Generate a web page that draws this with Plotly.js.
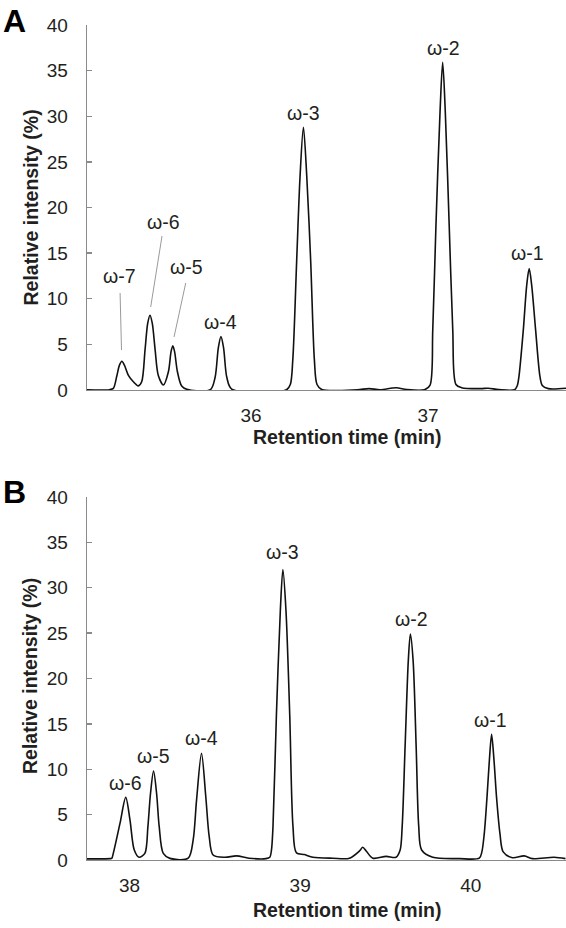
<!DOCTYPE html>
<html>
<head>
<meta charset="utf-8">
<script src="https://cdn.plot.ly/plotly-3.0.1.min.js"></script>
<style>html,body{margin:0;padding:0;background:#fff;}#chart{width:566px;height:928px;}</style>
</head>
<body>
<div id="chart"></div>
<script>
// ---------- Panel A data (retention time in min, relative intensity in %) ----------
const timeA = [35.073, 35.20, 35.222, 35.241, 35.256, 35.270, 35.285, 35.307, 35.335, 35.363,
  35.382, 35.401, 35.416, 35.429, 35.442, 35.458, 35.476, 35.505, 35.533, 35.548,
  35.558, 35.568, 35.584, 35.608, 35.637, 35.77, 35.797, 35.815, 35.83, 35.845,
  35.863, 35.891, 36.20, 36.222, 36.236, 36.258, 36.277, 36.296, 36.315, 36.337,
  36.358, 36.373, 36.40, 36.60, 36.667, 36.73, 36.82, 36.88, 36.98, 37.011,
  37.027, 37.045, 37.068, 37.083, 37.098, 37.120, 37.140, 37.158, 37.19, 37.30,
  37.34, 37.40, 37.49, 37.505, 37.514, 37.539, 37.558, 37.572, 37.586, 37.608,
  37.633, 37.646, 37.68, 37.78];
const intensityA = [0.02, 0.03, 0.18, 1.5, 2.7, 3.15, 2.7, 1.6, 0.9, 0.45,
  0.9, 4.4, 7.3, 8.2, 7.3, 4.4, 1.6, 0.55, 2.0, 4.2,
  4.85, 4.2, 2.0, 0.44, 0.08, 0.03, 1.4, 4.6, 5.85, 4.6,
  1.4, 0.1, 0.02, 0.6, 3.3, 14.2, 23.4, 28.8, 23.4, 14.2,
  3.3, 0.6, 0.05, 0.03, 0.15, 0.03, 0.25, 0.05, 0.03, 0.5,
  6.6, 18.0, 30.4, 35.9, 30.4, 18.0, 6.6, 0.6, 0.25, 0.15,
  0.2, 0.05, 0.03, 0.5, 1.46, 6.65, 11.5, 13.3, 11.5, 6.65,
  1.46, 0.5, 0.15, 0.2];

// ---------- Panel B data ----------
const timeB = [37.751, 37.886, 37.896, 37.905, 37.944, 37.978, 38.003, 38.028, 38.056, 38.090,
  38.108, 38.123, 38.141, 38.159, 38.174, 38.198, 38.237, 38.344, 38.373, 38.393,
  38.422, 38.447, 38.467, 38.490, 38.558, 38.627, 38.70, 38.80, 38.822, 38.832,
  38.841, 38.861, 38.884, 38.899, 38.917, 38.939, 38.958, 38.978, 39.026, 39.075,
  39.192, 39.289, 39.348, 39.367, 39.387, 39.426, 39.504, 39.562, 39.586, 39.598,
  39.615, 39.634, 39.646, 39.662, 39.680, 39.695, 39.712, 39.777, 39.933, 40.05,
  40.065, 40.079, 40.095, 40.109, 40.122, 40.136, 40.151, 40.171, 40.190, 40.244,
  40.313, 40.361, 40.488, 40.555];
const intensityB = [0.12, 0.15, 0.18, 0.73, 4.0, 6.9, 4.4, 1.1, 0.3, 0.73,
  3.7, 7.3, 9.8, 7.3, 3.7, 0.73, 0.18, 0.2, 2.2, 6.6,
  11.75, 7.0, 2.6, 0.55, 0.3, 0.45, 0.2, 0.15, 0.3, 1.1,
  3.7, 16.0, 27.5, 32.0, 27.5, 16.0, 3.7, 0.8, 0.6, 0.3,
  0.2, 0.2, 1.0, 1.4, 1.0, 0.2, 0.4, 0.3, 1.1, 3.7,
  12.45, 22.0, 24.9, 22.0, 12.45, 3.7, 1.1, 0.3, 0.15, 0.2,
  0.9, 2.9, 6.9, 11.0, 13.85, 11.0, 6.9, 2.9, 0.9, 0.25,
  0.45, 0.15, 0.3, 0.15];

// ---------- Peak labels ----------
const peakNamesA = ['ω-7', 'ω-6', 'ω-5', 'ω-4', 'ω-3', 'ω-2', 'ω-1'];
const labelTimeA = [35.254, 35.508, 35.638, 35.83, 36.294, 37.089, 37.565];
const labelIntA = [12.5, 18.4, 13.5, 7.45, 30.4, 37.5, 15.0];
// leader lines [x0, y0, x1, y1] in data units of panel A
const leadersA = [[35.260, 10.63, 35.268, 4.38], [35.497, 16.88, 35.433, 9.10], [35.631, 11.73, 35.565, 5.81]];

const peakNamesB = ['ω-6', 'ω-5', 'ω-4', 'ω-3', 'ω-2', 'ω-1'];
const labelTimeB = [37.977, 38.142, 38.422, 38.898, 39.650, 40.118];
const labelIntB = [8.45, 11.46, 13.48, 33.94, 26.56, 15.43];

const yTicks = [0, 5, 10, 15, 20, 25, 30, 35, 40];
const xTicksA = [36, 37];
const xTicksB = [38, 39, 40];

// ---------- layout helpers ----------
const W = 566, H = 928, ML = 87, MR = 0, MT = 25, MB = 68;
const px2x = p => (p - ML) / (W - ML - MR);
const py2y = p => (H - MB - p) / (H - MT - MB);

const FONT = 'Liberation Sans, Arial, sans-serif';
const AX = '#8a8a8a';
const TXT = '#231f20';

const traces = [
  {x: timeA, y: intensityA, xaxis: 'x', yaxis: 'y', type: 'scatter', mode: 'lines',
   line: {color: '#111', width: 1.6, shape: 'spline', smoothing: 0.85}, hoverinfo: 'x+y'},
  {x: timeB, y: intensityB, xaxis: 'x2', yaxis: 'y2', type: 'scatter', mode: 'lines',
   line: {color: '#111', width: 1.6, shape: 'spline', smoothing: 0.85}, hoverinfo: 'x+y'}
];

const xBase = {showline: true, linecolor: AX, linewidth: 1.3, showgrid: false, zeroline: false,
  ticks: '', tickmode: 'array', tickfont: {family: FONT, size: 19, color: TXT}, ticklabelstandoff: 8};
const yBase = {showline: true, linecolor: AX, linewidth: 1.3, showgrid: false, zeroline: false,
  range: [0, 40], ticks: 'inside', ticklen: 5, tickcolor: AX, tickwidth: 1.3,
  tickmode: 'array', tickvals: yTicks, tickfont: {family: FONT, size: 19, color: TXT}, ticklabelstandoff: 14};

const topA = 1, botA = py2y(390), topB = py2y(497), botB = 0;

const annotations = [];
peakNamesA.forEach((n, i) => annotations.push({xref: 'x', yref: 'y', x: labelTimeA[i], y: labelIntA[i],
  text: n, showarrow: false, xanchor: 'center', yanchor: 'middle', font: {family: FONT, size: 19.5, color: TXT}}));
peakNamesB.forEach((n, i) => annotations.push({xref: 'x2', yref: 'y2', x: labelTimeB[i], y: labelIntB[i],
  text: n, showarrow: false, xanchor: 'center', yanchor: 'middle', font: {family: FONT, size: 19.5, color: TXT}}));

// panel letters
annotations.push({xref: 'paper', yref: 'paper', x: px2x(14), y: py2y(21), text: '<b>A</b>', showarrow: false,
  xanchor: 'center', yanchor: 'middle', font: {family: FONT, size: 32, color: '#000'}});
annotations.push({xref: 'paper', yref: 'paper', x: px2x(14), y: py2y(492), text: '<b>B</b>', showarrow: false,
  xanchor: 'center', yanchor: 'middle', font: {family: FONT, size: 32, color: '#000'}});
// axis titles
[437, 910].forEach(cy => annotations.push({xref: 'paper', yref: 'paper', x: px2x(347), y: py2y(cy),
  text: '<b>Retention time (min)</b>', showarrow: false, xanchor: 'center', yanchor: 'middle',
  font: {family: FONT, size: 19.5, color: TXT}}));
[207.5, 676].forEach(cy => annotations.push({xref: 'paper', yref: 'paper', x: px2x(30), y: py2y(cy),
  text: '<b>Relative intensity (%)</b>', showarrow: false, textangle: -90, xanchor: 'center', yanchor: 'middle',
  font: {family: FONT, size: 19.5, color: TXT}}));

const shapes = leadersA.map(l => ({type: 'line', xref: 'x', yref: 'y', x0: l[0], y0: l[1], x1: l[2], y1: l[3],
  line: {color: '#9a9a9a', width: 1}}));

const layout = {
  width: W, height: H, margin: {l: ML, r: MR, t: MT, b: MB},
  paper_bgcolor: '#fff', plot_bgcolor: '#fff', showlegend: false,
  font: {family: FONT, color: TXT},
  xaxis: Object.assign({}, xBase, {anchor: 'y', domain: [0, 1], range: [35.073, 37.78], tickvals: xTicksA}),
  yaxis: Object.assign({}, yBase, {anchor: 'x', domain: [botA, topA]}),
  xaxis2: Object.assign({}, xBase, {anchor: 'y2', domain: [0, 1], range: [37.751, 40.558], tickvals: xTicksB}),
  yaxis2: Object.assign({}, yBase, {anchor: 'x2', domain: [botB, topB]}),
  annotations: annotations, shapes: shapes
};

Plotly.newPlot('chart', traces, layout, {displayModeBar: false, staticPlot: true});
</script>
</body>
</html>
